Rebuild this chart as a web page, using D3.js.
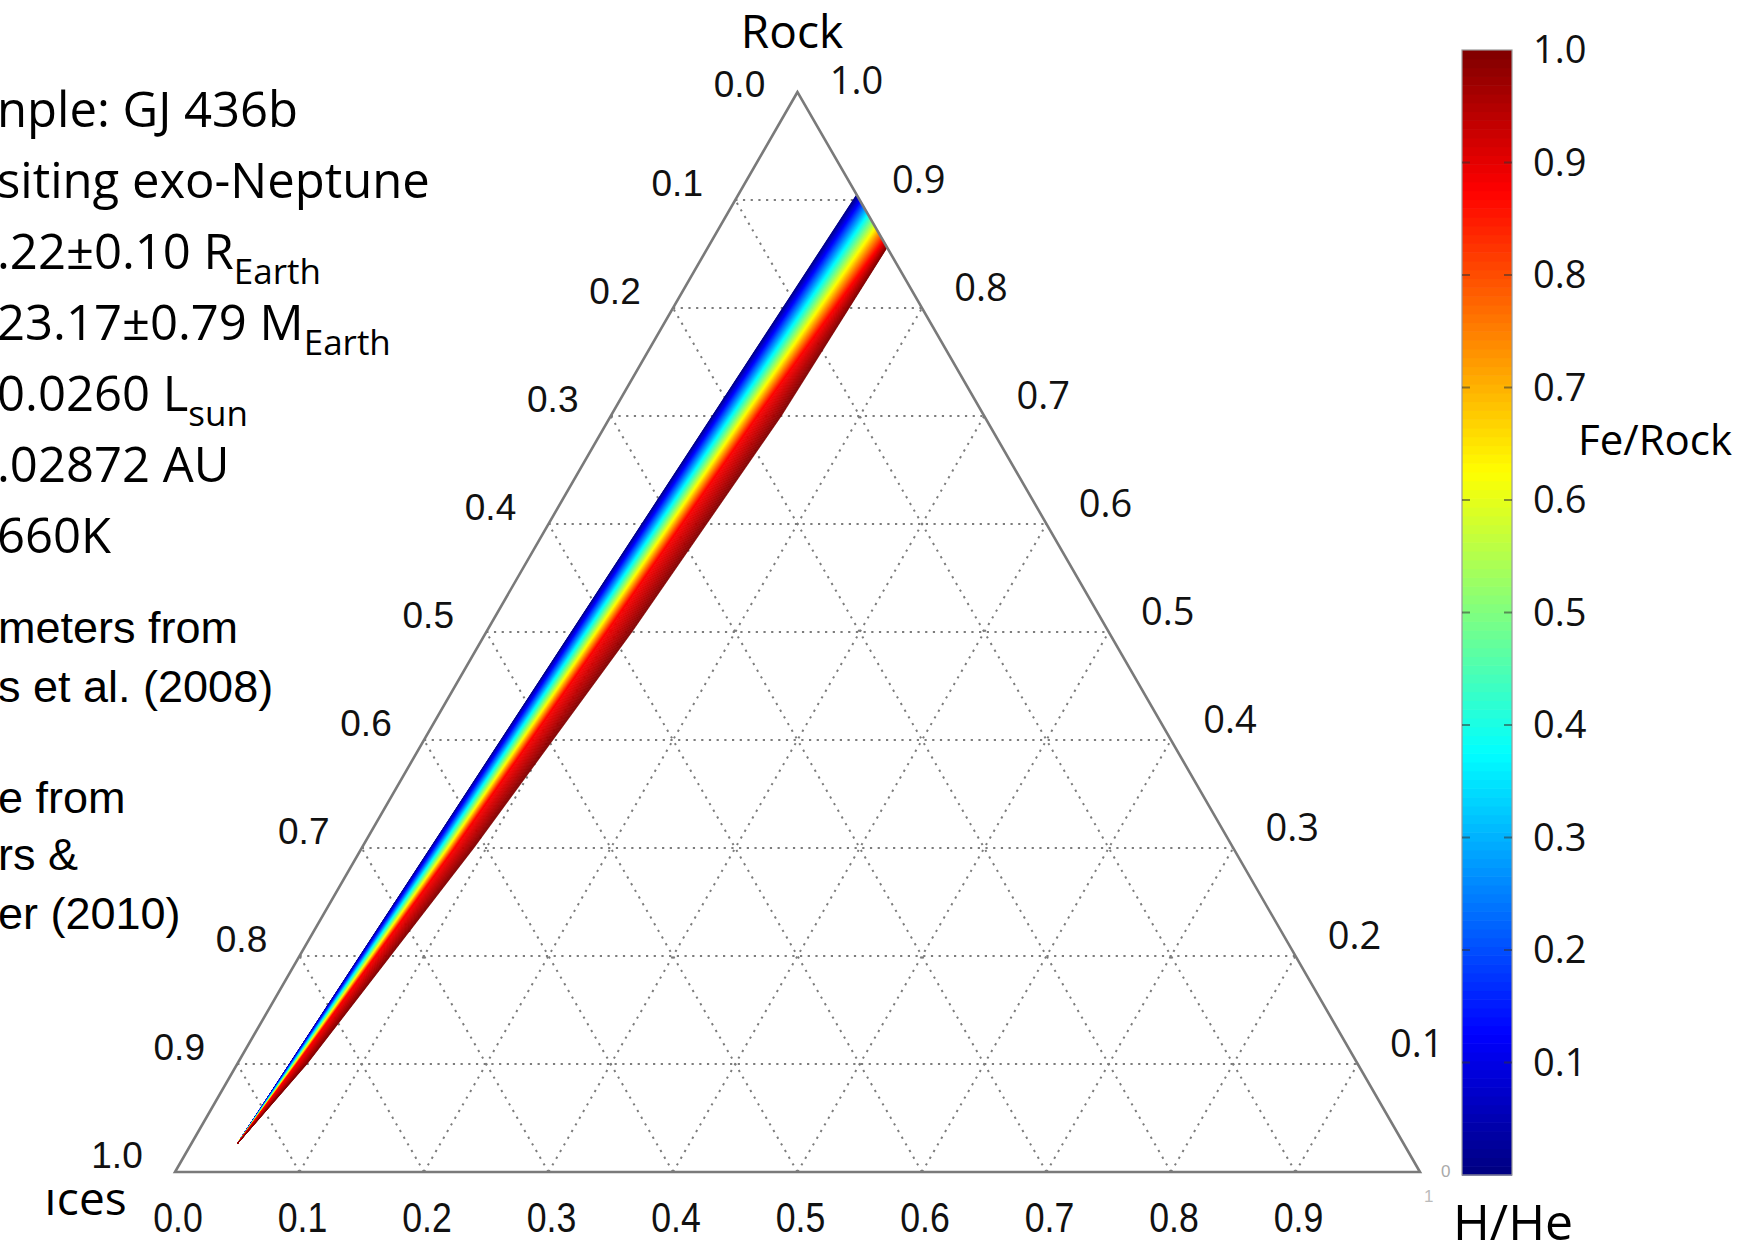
<!DOCTYPE html>
<html>
<head>
<meta charset="utf-8">
<script src="https://cdn.jsdelivr.net/npm/d3@7"></script>
<style>
  body { margin: 0; background: #fff; }
  svg { display: block; }
</style>
</head>
<body>
<svg id="chart" width="1743" height="1248"></svg>
<script>
// ---- Data -------------------------------------------------------------
// Planet summary (left side text block)
const infoLines = [
  { text: "nple: GJ 436b", sub: "" },
  { text: "siting exo-Neptune", sub: "" },
  { text: ".22±0.10 R", sub: "Earth" },
  { text: "23.17±0.79 M", sub: "Earth" },
  { text: "0.0260 L", sub: "sun" },
  { text: ".02872 AU", sub: "" },
  { text: "660K", sub: "" }
];
const sourceLines = ["meters from", "s et al. (2008)", "", "e from", "rs &", "er (2010)"];

// Ternary grid levels
const gridLevels = [0.1, 0.2, 0.3, 0.4, 0.5, 0.6, 0.7, 0.8, 0.9];
const leftTicks = [0.0, 0.1, 0.2, 0.3, 0.4, 0.5, 0.6, 0.7, 0.8, 0.9, 1.0];   // Ices along the left side
const rightTicks = [1.0, 0.9, 0.8, 0.7, 0.6, 0.5, 0.4, 0.3, 0.2, 0.1];       // Rock along the right side
const bottomTicks = [0.0, 0.1, 0.2, 0.3, 0.4, 0.5, 0.6, 0.7, 0.8, 0.9];     // H/He along the bottom

// Colour bar ticks (Fe/Rock)
const colorbarTicks = [0.1, 0.2, 0.3, 0.4, 0.5, 0.6, 0.7, 0.8, 0.9, 1.0];

// Allowed-composition solution curves at a few Fe/Rock values,
// vertices given as [Rock fraction, H/He fraction]
const feRockLevels = [0, 0.875, 1];
const solutionCurves = [
  [[0.905, 0.095], [0.700, 0.0815], [0.500, 0.0683], [0.300, 0.0551], [0.100, 0.0419], [0.026, 0.037]],
  [[0.862, 0.138], [0.700, 0.1180], [0.500, 0.0970], [0.300, 0.0750], [0.100, 0.0480], [0.026, 0.037]],
  [[0.856, 0.144], [0.700, 0.1370], [0.500, 0.1170], [0.300, 0.0900], [0.100, 0.0560], [0.026, 0.037]]
];

// ---- Layout -----------------------------------------------------------
const svg = d3.select("#chart");
const BL = { x: 175, y: 1172 };
const side = 1245;
const apexY = 92;

const yRock = d3.scaleLinear().domain([0, 1]).range([BL.y, apexY]);
const xHHe = d3.scaleLinear().domain([0, 1]).range([0, side]);
// ternary (rock, h/he) -> pixel
const P = (rock, hhe) => [BL.x + xHHe(hhe) + xHHe(rock) / 2, yRock(rock)];

const jet = d3.scaleLinear()
  .domain([0, 0.125, 0.375, 0.625, 0.875, 1])
  .range(["#00007f", "#0000ff", "#00ffff", "#ffff00", "#ff0000", "#7f0000"])
  .clamp(true);

// ---- Grid -------------------------------------------------------------
const grid = svg.append("g")
  .attr("stroke", "#7c7c7c")
  .attr("stroke-width", 2)
  .attr("stroke-dasharray", "2.2,5.5")
  .attr("fill", "none");

const gridSegs = [];
gridLevels.forEach(v => {
  gridSegs.push([P(v, 0), P(v, 1 - v)]);          // constant Rock
  gridSegs.push([P(0, v), P(1 - v, v)]);          // constant H/He
  gridSegs.push([P(0, 1 - v), P(1 - v, 0)]);      // constant Ices
});
grid.selectAll("line").data(gridSegs).join("line")
  .attr("x1", d => d[0][0]).attr("y1", d => d[0][1])
  .attr("x2", d => d[1][0]).attr("y2", d => d[1][1]);

// ---- Solution band coloured by Fe/Rock --------------------------------
const N = 160;
const curveAt = f => {
  let j = 0;
  while (j < feRockLevels.length - 2 && f > feRockLevels[j + 1]) j++;
  const t = (f - feRockLevels[j]) / (feRockLevels[j + 1] - feRockLevels[j]);
  return solutionCurves[j].map((p, i) => {
    const q = solutionCurves[j + 1][i];
    return [p[0] + (q[0] - p[0]) * t, p[1] + (q[1] - p[1]) * t];
  });
};
const strips = d3.range(N).map(k => {
  const a = curveAt(k / N), b = curveAt((k + 1) / N);
  return { f: (k + 0.5) / N, pts: a.concat(b.slice().reverse()).map(d => P(d[0], d[1])) };
});
svg.append("g").selectAll("polygon").data(strips).join("polygon")
  .attr("points", d => d.pts.map(p => p.join(",")).join(" "))
  .attr("fill", d => jet(d.f))
  .attr("stroke", d => jet(d.f))
  .attr("stroke-width", 0.6);

// ---- Triangle frame ---------------------------------------------------
svg.append("polygon")
  .attr("points", [P(1, 0), P(0, 0), P(0, 1)].map(p => p.join(",")).join(" "))
  .attr("fill", "none")
  .attr("stroke", "#7a7a7a")
  .attr("stroke-width", 2.6)
  .attr("stroke-linejoin", "miter");

// ---- Tick labels ------------------------------------------------------
const fmt = d3.format(".1f");
const apexDrop = d => (d === 0 ? 9 : 0);
svg.append("g").selectAll("text").data(leftTicks).join("text")
  .attr("x", d => P(1 - d, 0)[0] - 58)
  .attr("y", d => P(1 - d, 0)[1] - 4 + apexDrop(d))
  .attr("text-anchor", "middle")
  .attr("font-family", "'Liberation Sans', Arial, sans-serif")
  .attr("font-size", 37)
  .attr("fill", "#111")
  .text(fmt);

svg.append("g").selectAll("text").data(rightTicks).join("text")
  .attr("x", d => P(d, 1 - d)[0] + 59)
  .attr("y", d => P(d, 1 - d)[1] - 7 + apexDrop(1 - d))
  .attr("text-anchor", "middle")
  .attr("font-family", "'Open Sans', sans-serif")
  .attr("font-size", 38)
  .attr("fill", "#111")
  .text(fmt);

svg.append("g").selectAll("text").data(bottomTicks).join("text")
  .attr("transform", d => `translate(${P(0, d)[0] + 3},1232) scale(0.83,1)`)
  .attr("text-anchor", "middle")
  .attr("font-family", "'Liberation Sans', Arial, sans-serif")
  .attr("font-size", 43)
  .attr("fill", "#111")
  .text(fmt);

// faint corner leftovers next to the H/He vertex
svg.append("text").attr("x", P(0, 1)[0] + 21).attr("y", P(0, 1)[1] + 5)
  .attr("font-family", "'Liberation Sans', sans-serif").attr("font-size", 17)
  .attr("fill", "#aaa").text("0");
svg.append("text").attr("x", P(0, 1)[0] + 4).attr("y", P(0, 1)[1] + 30)
  .attr("font-family", "'Liberation Sans', sans-serif").attr("font-size", 17)
  .attr("fill", "#bbb").text("1");

// ---- Vertex titles ----------------------------------------------------
const title = (txt, x, y, size, anchor) => svg.append("text")
  .attr("x", x).attr("y", y).attr("font-size", size)
  .attr("text-anchor", anchor || "start")
  .attr("font-family", "'Open Sans', sans-serif").attr("fill", "#000").text(txt);
title("Rock", 792, 48, 46, "middle");
title("H/He", 1453, 1240, 50);
svg.append("clipPath").attr("id", "icesClip")
  .append("rect").attr("x", 0).attr("y", 1190).attr("width", 200).attr("height", 60);
title("Ices", 44, 1215, 46).attr("clip-path", "url(#icesClip)");

// ---- Colour bar -------------------------------------------------------
const cbX = 1462, cbW = 50;
const yCb = d3.scaleLinear().domain([0, 1]).range([1175, 50]);
const cbSteps = d3.range(0, 1, 1 / 128);
const cb = svg.append("g");
cb.selectAll("rect").data(cbSteps).join("rect")
  .attr("x", cbX).attr("width", cbW)
  .attr("y", d => yCb(d + 1 / 128))
  .attr("height", d => yCb(d) - yCb(d + 1 / 128) + 0.6)
  .attr("fill", d => jet(d + 0.5 / 128));
cb.append("rect").attr("x", cbX).attr("y", yCb(1)).attr("width", cbW)
  .attr("height", yCb(0) - yCb(1)).attr("fill", "none")
  .attr("stroke", "#9a9a9a").attr("stroke-width", 1.2);
cb.selectAll("line.tl").data(colorbarTicks.slice(0, -1)).join("line")
  .attr("class", "tl").attr("x1", cbX).attr("x2", cbX + 8)
  .attr("y1", yCb).attr("y2", yCb).attr("stroke", "#333").attr("stroke-opacity", 0.55).attr("stroke-width", 2);
cb.selectAll("line.tr").data(colorbarTicks.slice(0, -1)).join("line")
  .attr("class", "tr").attr("x1", cbX + cbW - 8).attr("x2", cbX + cbW)
  .attr("y1", yCb).attr("y2", yCb).attr("stroke", "#333").attr("stroke-opacity", 0.55).attr("stroke-width", 2);
cb.selectAll("text").data(colorbarTicks).join("text")
  .attr("x", cbX + cbW + 21).attr("y", d => yCb(d) + 13)
  .attr("font-family", "'Open Sans', sans-serif").attr("font-size", 38)
  .attr("fill", "#111").text(fmt);
title("Fe/Rock", 1578, 455, 42);

// ---- Left text blocks -------------------------------------------------
const info = svg.append("g").attr("font-family", "'Open Sans', sans-serif").attr("fill", "#000");
infoLines.forEach((d, i) => {
  const t = info.append("text").attr("x", -3).attr("y", 127 + i * 71).attr("font-size", 49);
  t.append("tspan").text(d.text);
  if (d.sub) t.append("tspan").attr("font-size", 35).attr("dy", 15).text(d.sub);
});
const src = svg.append("g").attr("font-family", "'Liberation Sans', Arial, sans-serif").attr("fill", "#000").attr("font-size", 45);
const srcY = [643, 702, 0, 813, 870, 929];
sourceLines.forEach((s, i) => { if (s) src.append("text").attr("x", -2).attr("y", srcY[i]).text(s); });
</script>
</body>
</html>
